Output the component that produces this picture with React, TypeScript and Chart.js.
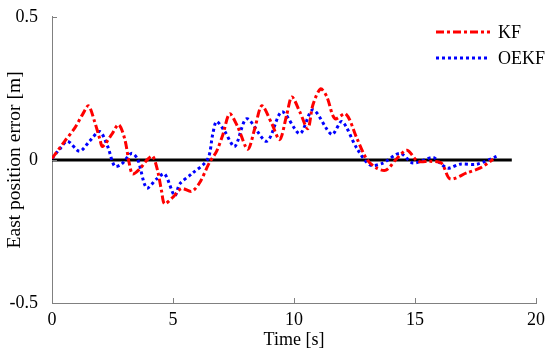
import React, { useEffect, useRef } from "react";
import { Chart, registerables } from "chart.js";

Chart.register(...registerables);

const kfTime = [0, 0.52, 0.93, 1.27, 1.51, 1.76, 1.97, 2.09, 2.46, 2.75, 3.0, 3.2, 3.33, 3.62, 3.95, 4.16, 4.37, 4.53, 4.65, 5.0, 5.35, 5.77, 6.1, 6.5, 6.8, 7.06, 7.34, 7.67, 8.09, 8.38, 8.67, 9.08, 9.41, 9.7, 9.91, 10.24, 10.57, 10.78, 11.1, 11.36, 11.69, 12.14, 12.6, 13.01, 13.4, 13.8, 14.25, 14.67, 15.12, 15.62, 16.1, 16.45, 17.15, 17.7, 18.23];
const kfError = [0.005, 0.065, 0.11, 0.16, 0.189, 0.134, 0.075, 0.047, 0.088, 0.123, 0.075, -0.015, -0.049, -0.032, 0.002, 0.013, -0.04, -0.11, -0.153, -0.13, -0.1, -0.11, -0.08, -0.01, 0.03, 0.088, 0.161, 0.116, 0.037, 0.11, 0.189, 0.127, 0.071, 0.158, 0.22, 0.168, 0.109, 0.192, 0.248, 0.22, 0.144, 0.161, 0.075, 0.002, -0.028, -0.036, 0.005, 0.034, -0.005, -0.005, -0.012, -0.066, -0.045, -0.028, 0.002];

const oekfTime = [0, 0.31, 0.64, 1.14, 1.55, 1.97, 2.3, 2.59, 2.87, 3.29, 3.54, 3.91, 4.32, 4.65, 5.07, 5.28, 5.77, 6.43, 6.64, 6.8, 7.14, 7.55, 8.05, 8.87, 9.5, 10.24, 10.78, 11.56, 11.98, 12.6, 13.14, 13.67, 14.38, 14.92, 15.74, 16.03, 16.36, 16.86, 17.56, 18.39];
const oekfError = [0.005, 0.037, 0.065, 0.03, 0.065, 0.099, 0.047, -0.022, -0.015, 0.023, 0.002, -0.098, -0.067, -0.049, -0.125, -0.084, -0.049, 0.002, 0.089, 0.134, 0.099, 0.047, 0.144, 0.065, 0.168, 0.092, 0.175, 0.089, 0.134, 0.04, -0.018, -0.011, 0.023, -0.011, 0.009, -0.011, -0.029, -0.015, -0.015, 0.013];

const zeroTime = [0, 19];
const zeroValue = [0, 0];

const xTicks = [0, 5, 10, 15, 20];
const yTicks = [-0.5, 0, 0.5];
const seriesNames = ["KF", "OEKF"];

const FONT = "'Liberation Serif', 'Times New Roman', serif";
const AXIS = "#808080";
const KF_DASH = [8, 3, 3, 3];
const OEKF_DASH = [3, 3];

const toPoints = (xs: number[], ys: number[]) => xs.map((x, i) => ({ x, y: ys[i] }));

const innerTicks = {
  id: "innerTicks",
  afterDraw(chart: any) {
    const { ctx, chartArea, scales } = chart;
    ctx.save();
    ctx.strokeStyle = AXIS;
    ctx.lineWidth = 1;
    ctx.beginPath();
    xTicks.forEach((v) => {
      const px = Math.round(scales.x.getPixelForValue(v)) + 0.5;
      ctx.moveTo(px, chartArea.bottom);
      ctx.lineTo(px, chartArea.bottom - 5);
    });
    yTicks.forEach((v) => {
      const py = Math.round(scales.y.getPixelForValue(v)) + 0.5;
      ctx.moveTo(chartArea.left, py);
      ctx.lineTo(chartArea.left + 5, py);
    });
    ctx.stroke();
    ctx.restore();
  },
};

const customLegend = {
  id: "customLegend",
  afterDraw(chart: any) {
    const { ctx } = chart;
    const items = [
      { name: seriesNames[0], color: "#ff0000", dash: KF_DASH, y: 32 },
      { name: seriesNames[1], color: "#0000ff", dash: OEKF_DASH, y: 58 },
    ];
    ctx.save();
    items.forEach((it) => {
      ctx.beginPath();
      ctx.strokeStyle = it.color;
      ctx.lineWidth = 3;
      ctx.setLineDash(it.dash);
      ctx.moveTo(436, it.y);
      ctx.lineTo(490, it.y);
      ctx.stroke();
      ctx.setLineDash([]);
      ctx.fillStyle = "#000";
      ctx.font = `18px ${FONT}`;
      ctx.textBaseline = "middle";
      ctx.textAlign = "left";
      ctx.fillText(it.name, 498, it.y + 1);
    });
    ctx.restore();
  },
};

export default function App() {
  const ref = useRef<HTMLCanvasElement | null>(null);
  useEffect(() => {
    document.body.style.margin = "0";
    if (!ref.current) return;
    const chart = new Chart(ref.current, {
      type: "line",
      data: {
        datasets: [
          {
            label: seriesNames[0],
            data: toPoints(kfTime, kfError),
            borderColor: "#ff0000",
            borderWidth: 3,
            borderDash: KF_DASH,
            pointRadius: 0,
            tension: 0.3,
            fill: false,
          },
          {
            label: seriesNames[1],
            data: toPoints(oekfTime, oekfError),
            borderColor: "#0000ff",
            borderWidth: 3,
            borderDash: OEKF_DASH,
            pointRadius: 0,
            tension: 0.3,
            fill: false,
          },
          {
            label: "zero",
            data: toPoints(zeroTime, zeroValue),
            borderColor: "#000000",
            borderWidth: 3,
            pointRadius: 0,
            fill: false,
          },
        ],
      },
      options: {
        animation: false,
        responsive: false,
        devicePixelRatio: 1,
        layout: { padding: { top: 14, right: 14, left: 0, bottom: 0 } },
        plugins: { legend: { display: false }, tooltip: { enabled: false } },
        scales: {
          x: {
            type: "linear",
            min: 0,
            max: 20,
            afterFit: (s: any) => { s.height = 51; },
            afterBuildTicks: (s: any) => { s.ticks = xTicks.map((v) => ({ value: v })); },
            grid: { display: false },
            border: { display: true, color: AXIS, width: 1 },
            ticks: { color: "#000", font: { family: FONT, size: 18 }, padding: -2, maxRotation: 0 },
            title: { display: true, text: "Time [s]", color: "#000", font: { family: FONT, size: 18 }, padding: { top: 0, bottom: 3 } },
          },
          y: {
            type: "linear",
            min: -0.5,
            max: 0.5,
            afterFit: (s: any) => { s.width = 52; },
            afterBuildTicks: (s: any) => { s.ticks = yTicks.map((v) => ({ value: v })); },
            grid: { display: false },
            border: { display: true, color: AXIS, width: 1 },
            ticks: { color: "#000", font: { family: FONT, size: 18 }, padding: 6, callback: (v: any) => String(v) },
            title: { display: true, text: "East position error [m]", color: "#000", font: { family: FONT, size: 19.5 }, padding: { top: 3, bottom: 0 } },
          },
        },
      },
      plugins: [innerTicks, customLegend],
    });
    return () => chart.destroy();
  }, []);
  return (
    <div style={{ width: 550, height: 354 }}>
      <canvas ref={ref} width={550} height={354} />
    </div>
  );
}
